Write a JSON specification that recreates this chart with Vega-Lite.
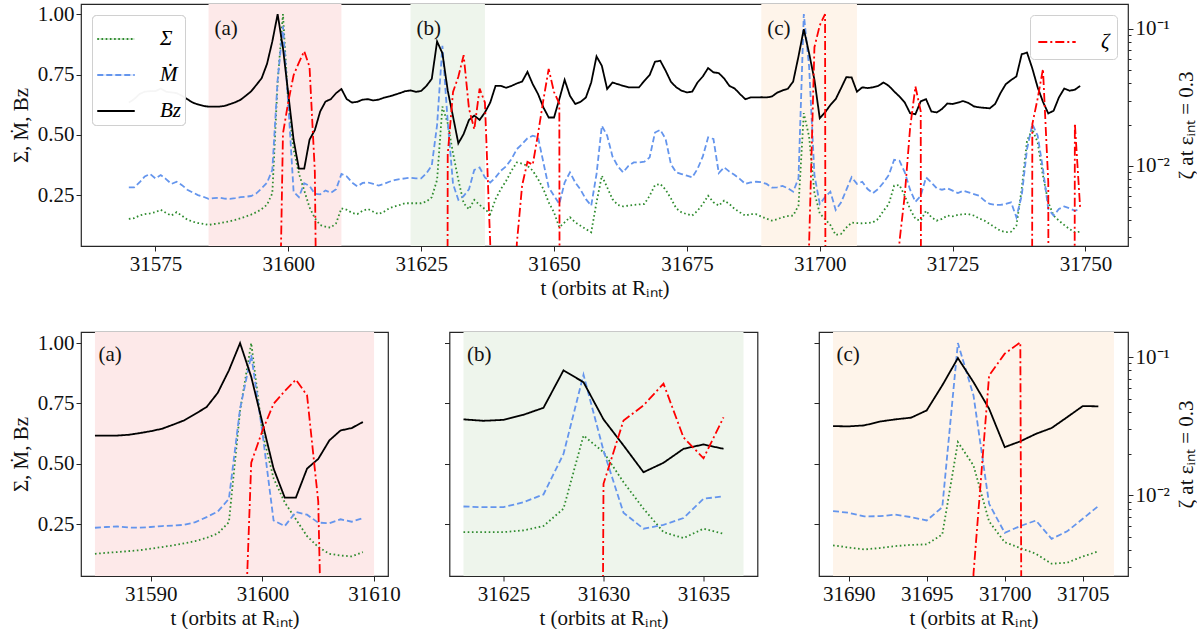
{
  "$schema": "https://vega.github.io/schema/vega-lite/v6.json",
  "padding": {"left": 9, "top": 2, "right": 0, "bottom": 0},
  "config": {
    "font": "Liberation Serif",
    "view": {"stroke": "#262626", "strokeWidth": 1.2},
    "axis": {
      "labelFont": "Liberation Serif", "titleFont": "Liberation Serif",
      "labelFontSize": 21, "titleFontSize": 21, "titleFontWeight": "normal",
      "labelColor": "#111", "titleColor": "#111", "tickColor": "#262626",
      "domain": false, "grid": false, "tickSize": 5, "labelPadding": 2,
      "labelFlush": false, "labelOverlap": false
    },
    "line": {"strokeWidth": 1.8}
  },
  "datasets": {
    "spans": [
      {"panel": "a", "label": "(a)", "t0": 31585, "t1": 31610},
      {"panel": "b", "label": "(b)", "t0": 31623, "t1": 31637},
      {"panel": "c", "label": "(c)", "t0": 31689, "t1": 31707}
    ],
    "main": [
      {"t":31570,"sigma":0.152,"mdot":0.283,"bz":0.634,"zeta":1e-30},
      {"t":31571,"sigma":0.155,"mdot":0.283,"bz":0.648,"zeta":1e-30},
      {"t":31572,"sigma":0.166,"mdot":0.303,"bz":0.669,"zeta":1e-30},
      {"t":31573,"sigma":0.172,"mdot":0.328,"bz":0.679,"zeta":1e-30},
      {"t":31574,"sigma":0.175,"mdot":0.338,"bz":0.681,"zeta":1e-30},
      {"t":31575,"sigma":0.180,"mdot":0.320,"bz":0.681,"zeta":1e-30},
      {"t":31576,"sigma":0.190,"mdot":0.334,"bz":0.692,"zeta":1e-30},
      {"t":31577,"sigma":0.177,"mdot":0.317,"bz":0.679,"zeta":1e-30},
      {"t":31578,"sigma":0.166,"mdot":0.297,"bz":0.676,"zeta":1e-30},
      {"t":31579,"sigma":0.180,"mdot":0.306,"bz":0.673,"zeta":1e-30},
      {"t":31580,"sigma":0.165,"mdot":0.292,"bz":0.662,"zeta":1e-30},
      {"t":31581,"sigma":0.149,"mdot":0.273,"bz":0.648,"zeta":1e-30},
      {"t":31582,"sigma":0.141,"mdot":0.262,"bz":0.634,"zeta":1e-30},
      {"t":31583,"sigma":0.135,"mdot":0.251,"bz":0.626,"zeta":1e-30},
      {"t":31584,"sigma":0.132,"mdot":0.244,"bz":0.620,"zeta":1e-30},
      {"t":31585,"sigma":0.127,"mdot":0.235,"bz":0.617,"zeta":1e-30},
      {"t":31586,"sigma":0.131,"mdot":0.238,"bz":0.617,"zeta":1e-30},
      {"t":31587,"sigma":0.134,"mdot":0.240,"bz":0.617,"zeta":1e-30},
      {"t":31588,"sigma":0.138,"mdot":0.236,"bz":0.620,"zeta":1e-30},
      {"t":31589,"sigma":0.142,"mdot":0.235,"bz":0.627,"zeta":1e-30},
      {"t":31590,"sigma":0.148,"mdot":0.238,"bz":0.635,"zeta":1e-30},
      {"t":31591,"sigma":0.155,"mdot":0.242,"bz":0.645,"zeta":1e-30},
      {"t":31592,"sigma":0.162,"mdot":0.244,"bz":0.662,"zeta":1e-30},
      {"t":31593,"sigma":0.170,"mdot":0.247,"bz":0.680,"zeta":1e-30},
      {"t":31594,"sigma":0.180,"mdot":0.258,"bz":0.707,"zeta":1e-30},
      {"t":31595,"sigma":0.193,"mdot":0.279,"bz":0.735,"zeta":1e-30},
      {"t":31596,"sigma":0.211,"mdot":0.302,"bz":0.794,"zeta":1e-30},
      {"t":31597,"sigma":0.258,"mdot":0.355,"bz":0.887,"zeta":1e-30},
      {"t":31598,"sigma":0.720,"mdot":0.728,"bz":1.000,"zeta":1e-4},
      {"t":31599,"sigma":1.000,"mdot":0.950,"bz":0.860,"zeta":0.0172},
      {"t":31600,"sigma":0.630,"mdot":0.630,"bz":0.670,"zeta":0.0293},
      {"t":31601,"sigma":0.440,"mdot":0.265,"bz":0.480,"zeta":0.0459},
      {"t":31602,"sigma":0.340,"mdot":0.242,"bz":0.360,"zeta":0.0568},
      {"t":31603,"sigma":0.270,"mdot":0.300,"bz":0.360,"zeta":0.0687},
      {"t":31604,"sigma":0.200,"mdot":0.289,"bz":0.480,"zeta":0.0528},
      {"t":31605,"sigma":0.155,"mdot":0.256,"bz":0.520,"zeta":0.00903},
      {"t":31606,"sigma":0.127,"mdot":0.254,"bz":0.597,"zeta":2e-6},
      {"t":31607,"sigma":0.120,"mdot":0.270,"bz":0.638,"zeta":1e-30},
      {"t":31608,"sigma":0.116,"mdot":0.260,"bz":0.648,"zeta":1e-30},
      {"t":31609,"sigma":0.134,"mdot":0.275,"bz":0.673,"zeta":1e-30},
      {"t":31610,"sigma":0.196,"mdot":0.338,"bz":0.690,"zeta":1e-30},
      {"t":31611,"sigma":0.190,"mdot":0.328,"bz":0.648,"zeta":1e-30},
      {"t":31612,"sigma":0.177,"mdot":0.303,"bz":0.634,"zeta":1e-30},
      {"t":31613,"sigma":0.172,"mdot":0.287,"bz":0.637,"zeta":1e-30},
      {"t":31614,"sigma":0.186,"mdot":0.301,"bz":0.646,"zeta":1e-30},
      {"t":31615,"sigma":0.193,"mdot":0.303,"bz":0.648,"zeta":1e-30},
      {"t":31616,"sigma":0.182,"mdot":0.297,"bz":0.643,"zeta":1e-30},
      {"t":31617,"sigma":0.172,"mdot":0.290,"bz":0.646,"zeta":1e-30},
      {"t":31618,"sigma":0.182,"mdot":0.297,"bz":0.654,"zeta":1e-30},
      {"t":31619,"sigma":0.196,"mdot":0.306,"bz":0.659,"zeta":1e-30},
      {"t":31620,"sigma":0.204,"mdot":0.313,"bz":0.666,"zeta":1e-30},
      {"t":31621,"sigma":0.210,"mdot":0.317,"bz":0.673,"zeta":1e-30},
      {"t":31622,"sigma":0.217,"mdot":0.320,"bz":0.681,"zeta":1e-30},
      {"t":31623,"sigma":0.217,"mdot":0.323,"bz":0.684,"zeta":1e-30},
      {"t":31624,"sigma":0.217,"mdot":0.320,"bz":0.678,"zeta":1e-30},
      {"t":31625,"sigma":0.217,"mdot":0.320,"bz":0.682,"zeta":1e-30},
      {"t":31626,"sigma":0.224,"mdot":0.341,"bz":0.703,"zeta":1e-30},
      {"t":31627,"sigma":0.242,"mdot":0.373,"bz":0.732,"zeta":1e-30},
      {"t":31628,"sigma":0.314,"mdot":0.541,"bz":0.887,"zeta":1e-30},
      {"t":31629,"sigma":0.617,"mdot":0.869,"bz":0.838,"zeta":1e-30},
      {"t":31630,"sigma":0.548,"mdot":0.555,"bz":0.684,"zeta":0.0121},
      {"t":31631,"sigma":0.424,"mdot":0.297,"bz":0.576,"zeta":0.0347},
      {"t":31632,"sigma":0.314,"mdot":0.231,"bz":0.465,"zeta":0.0447},
      {"t":31633,"sigma":0.217,"mdot":0.247,"bz":0.504,"zeta":0.0643},
      {"t":31634,"sigma":0.192,"mdot":0.275,"bz":0.562,"zeta":0.0262},
      {"t":31635,"sigma":0.231,"mdot":0.355,"bz":0.580,"zeta":0.0185},
      {"t":31636,"sigma":0.210,"mdot":0.365,"bz":0.562,"zeta":0.0366},
      {"t":31637,"sigma":0.193,"mdot":0.324,"bz":0.593,"zeta":0.0290},
      {"t":31638,"sigma":0.172,"mdot":0.303,"bz":0.634,"zeta":0.0027},
      {"t":31639,"sigma":0.234,"mdot":0.324,"bz":0.703,"zeta":1e-30},
      {"t":31640,"sigma":0.276,"mdot":0.352,"bz":0.703,"zeta":1e-30},
      {"t":31641,"sigma":0.310,"mdot":0.370,"bz":0.695,"zeta":1e-30},
      {"t":31642,"sigma":0.352,"mdot":0.400,"bz":0.703,"zeta":1e-30},
      {"t":31643,"sigma":0.386,"mdot":0.441,"bz":0.713,"zeta":0.0027},
      {"t":31644,"sigma":0.381,"mdot":0.462,"bz":0.721,"zeta":0.0072},
      {"t":31645,"sigma":0.372,"mdot":0.486,"bz":0.761,"zeta":0.0107},
      {"t":31646,"sigma":0.352,"mdot":0.497,"bz":0.710,"zeta":0.0102},
      {"t":31647,"sigma":0.317,"mdot":0.490,"bz":0.669,"zeta":0.0172},
      {"t":31648,"sigma":0.276,"mdot":0.386,"bz":0.614,"zeta":0.0303},
      {"t":31649,"sigma":0.221,"mdot":0.283,"bz":0.572,"zeta":0.051},
      {"t":31650,"sigma":0.179,"mdot":0.248,"bz":0.572,"zeta":0.0346},
      {"t":31651,"sigma":0.117,"mdot":0.214,"bz":0.648,"zeta":0.0285},
      {"t":31652,"sigma":0.138,"mdot":0.303,"bz":0.728,"zeta":1e-30},
      {"t":31653,"sigma":0.159,"mdot":0.345,"bz":0.662,"zeta":1e-30},
      {"t":31654,"sigma":0.138,"mdot":0.303,"bz":0.628,"zeta":1e-30},
      {"t":31655,"sigma":0.124,"mdot":0.273,"bz":0.637,"zeta":1e-30},
      {"t":31656,"sigma":0.110,"mdot":0.234,"bz":0.655,"zeta":1e-30},
      {"t":31657,"sigma":0.097,"mdot":0.207,"bz":0.717,"zeta":1e-30},
      {"t":31658,"sigma":0.221,"mdot":0.338,"bz":0.825,"zeta":1e-30},
      {"t":31659,"sigma":0.331,"mdot":0.538,"bz":0.786,"zeta":1e-30},
      {"t":31660,"sigma":0.283,"mdot":0.497,"bz":0.690,"zeta":1e-30},
      {"t":31661,"sigma":0.234,"mdot":0.411,"bz":0.717,"zeta":1e-30},
      {"t":31662,"sigma":0.210,"mdot":0.370,"bz":0.710,"zeta":1e-30},
      {"t":31663,"sigma":0.204,"mdot":0.345,"bz":0.703,"zeta":1e-30},
      {"t":31664,"sigma":0.207,"mdot":0.372,"bz":0.697,"zeta":1e-30},
      {"t":31665,"sigma":0.210,"mdot":0.386,"bz":0.697,"zeta":1e-30},
      {"t":31666,"sigma":0.212,"mdot":0.386,"bz":0.697,"zeta":1e-30},
      {"t":31667,"sigma":0.214,"mdot":0.389,"bz":0.724,"zeta":1e-30},
      {"t":31668,"sigma":0.248,"mdot":0.407,"bz":0.748,"zeta":1e-30},
      {"t":31669,"sigma":0.292,"mdot":0.510,"bz":0.803,"zeta":1e-30},
      {"t":31670,"sigma":0.297,"mdot":0.521,"bz":0.807,"zeta":1e-30},
      {"t":31671,"sigma":0.273,"mdot":0.483,"bz":0.766,"zeta":1e-30},
      {"t":31672,"sigma":0.237,"mdot":0.379,"bz":0.720,"zeta":1e-30},
      {"t":31673,"sigma":0.196,"mdot":0.345,"bz":0.697,"zeta":1e-30},
      {"t":31674,"sigma":0.179,"mdot":0.338,"bz":0.683,"zeta":1e-30},
      {"t":31675,"sigma":0.172,"mdot":0.331,"bz":0.676,"zeta":1e-30},
      {"t":31676,"sigma":0.166,"mdot":0.324,"bz":0.679,"zeta":1e-30},
      {"t":31677,"sigma":0.186,"mdot":0.359,"bz":0.717,"zeta":1e-30},
      {"t":31678,"sigma":0.214,"mdot":0.411,"bz":0.742,"zeta":1e-30},
      {"t":31679,"sigma":0.248,"mdot":0.490,"bz":0.777,"zeta":1e-30},
      {"t":31680,"sigma":0.221,"mdot":0.483,"bz":0.759,"zeta":1e-30},
      {"t":31681,"sigma":0.207,"mdot":0.342,"bz":0.756,"zeta":1e-30},
      {"t":31682,"sigma":0.228,"mdot":0.366,"bz":0.734,"zeta":1e-30},
      {"t":31683,"sigma":0.214,"mdot":0.348,"bz":0.703,"zeta":1e-30},
      {"t":31684,"sigma":0.193,"mdot":0.334,"bz":0.692,"zeta":1e-30},
      {"t":31685,"sigma":0.179,"mdot":0.317,"bz":0.669,"zeta":1e-30},
      {"t":31686,"sigma":0.166,"mdot":0.297,"bz":0.648,"zeta":1e-30},
      {"t":31687,"sigma":0.172,"mdot":0.303,"bz":0.655,"zeta":1e-30},
      {"t":31688,"sigma":0.172,"mdot":0.306,"bz":0.655,"zeta":1e-30},
      {"t":31689,"sigma":0.162,"mdot":0.304,"bz":0.656,"zeta":1e-30},
      {"t":31690,"sigma":0.153,"mdot":0.297,"bz":0.655,"zeta":1e-30},
      {"t":31691,"sigma":0.145,"mdot":0.282,"bz":0.659,"zeta":1e-30},
      {"t":31692,"sigma":0.151,"mdot":0.283,"bz":0.675,"zeta":1e-30},
      {"t":31693,"sigma":0.159,"mdot":0.289,"bz":0.684,"zeta":1e-30},
      {"t":31694,"sigma":0.164,"mdot":0.279,"bz":0.691,"zeta":1e-30},
      {"t":31695,"sigma":0.166,"mdot":0.265,"bz":0.721,"zeta":1e-30},
      {"t":31696,"sigma":0.207,"mdot":0.320,"bz":0.825,"zeta":1e-30},
      {"t":31697,"sigma":0.590,"mdot":1.000,"bz":0.938,"zeta":1e-30},
      {"t":31698,"sigma":0.493,"mdot":0.783,"bz":0.838,"zeta":0.0027},
      {"t":31699,"sigma":0.261,"mdot":0.334,"bz":0.728,"zeta":0.0735},
      {"t":31700,"sigma":0.175,"mdot":0.214,"bz":0.569,"zeta":0.106},
      {"t":31701,"sigma":0.151,"mdot":0.242,"bz":0.593,"zeta":0.128},
      {"t":31702,"sigma":0.127,"mdot":0.265,"bz":0.624,"zeta":1e-30},
      {"t":31703,"sigma":0.086,"mdot":0.189,"bz":0.648,"zeta":1e-30},
      {"t":31704,"sigma":0.090,"mdot":0.220,"bz":0.693,"zeta":1e-30},
      {"t":31705,"sigma":0.116,"mdot":0.272,"bz":0.739,"zeta":1e-30},
      {"t":31706,"sigma":0.137,"mdot":0.325,"bz":0.738,"zeta":1e-30},
      {"t":31707,"sigma":0.135,"mdot":0.297,"bz":0.679,"zeta":1e-30},
      {"t":31708,"sigma":0.134,"mdot":0.306,"bz":0.697,"zeta":1e-30},
      {"t":31709,"sigma":0.135,"mdot":0.276,"bz":0.694,"zeta":1e-30},
      {"t":31710,"sigma":0.138,"mdot":0.259,"bz":0.697,"zeta":1e-30},
      {"t":31711,"sigma":0.152,"mdot":0.276,"bz":0.703,"zeta":1e-30},
      {"t":31712,"sigma":0.186,"mdot":0.303,"bz":0.717,"zeta":1e-30},
      {"t":31713,"sigma":0.214,"mdot":0.334,"bz":0.703,"zeta":1e-30},
      {"t":31714,"sigma":0.290,"mdot":0.397,"bz":0.680,"zeta":1e-30},
      {"t":31715,"sigma":0.292,"mdot":0.393,"bz":0.659,"zeta":0.0028},
      {"t":31716,"sigma":0.248,"mdot":0.345,"bz":0.634,"zeta":0.00614},
      {"t":31717,"sigma":0.193,"mdot":0.273,"bz":0.590,"zeta":0.0189},
      {"t":31718,"sigma":0.152,"mdot":0.223,"bz":0.586,"zeta":0.038},
      {"t":31719,"sigma":0.145,"mdot":0.248,"bz":0.639,"zeta":0.025},
      {"t":31720,"sigma":0.186,"mdot":0.324,"bz":0.648,"zeta":1e-30},
      {"t":31721,"sigma":0.159,"mdot":0.303,"bz":0.597,"zeta":1e-30},
      {"t":31722,"sigma":0.145,"mdot":0.279,"bz":0.593,"zeta":1e-30},
      {"t":31723,"sigma":0.152,"mdot":0.273,"bz":0.607,"zeta":1e-30},
      {"t":31724,"sigma":0.166,"mdot":0.279,"bz":0.630,"zeta":1e-30},
      {"t":31725,"sigma":0.163,"mdot":0.269,"bz":0.628,"zeta":1e-30},
      {"t":31726,"sigma":0.169,"mdot":0.259,"bz":0.634,"zeta":1e-30},
      {"t":31727,"sigma":0.172,"mdot":0.269,"bz":0.640,"zeta":1e-30},
      {"t":31728,"sigma":0.172,"mdot":0.262,"bz":0.632,"zeta":1e-30},
      {"t":31729,"sigma":0.166,"mdot":0.255,"bz":0.618,"zeta":1e-30},
      {"t":31730,"sigma":0.154,"mdot":0.248,"bz":0.614,"zeta":1e-30},
      {"t":31731,"sigma":0.145,"mdot":0.228,"bz":0.612,"zeta":1e-30},
      {"t":31732,"sigma":0.131,"mdot":0.214,"bz":0.610,"zeta":1e-30},
      {"t":31733,"sigma":0.117,"mdot":0.210,"bz":0.628,"zeta":1e-30},
      {"t":31734,"sigma":0.103,"mdot":0.210,"bz":0.673,"zeta":1e-30},
      {"t":31735,"sigma":0.097,"mdot":0.214,"bz":0.710,"zeta":1e-30},
      {"t":31736,"sigma":0.099,"mdot":0.221,"bz":0.727,"zeta":1e-30},
      {"t":31737,"sigma":0.124,"mdot":0.159,"bz":0.742,"zeta":1e-30},
      {"t":31738,"sigma":0.276,"mdot":0.248,"bz":0.834,"zeta":1e-30},
      {"t":31739,"sigma":0.476,"mdot":0.441,"bz":0.841,"zeta":1e-30},
      {"t":31740,"sigma":0.524,"mdot":0.545,"bz":0.775,"zeta":0.0202},
      {"t":31741,"sigma":0.469,"mdot":0.497,"bz":0.697,"zeta":0.031},
      {"t":31742,"sigma":0.331,"mdot":0.359,"bz":0.637,"zeta":0.051},
      {"t":31743,"sigma":0.221,"mdot":0.193,"bz":0.589,"zeta":0.0076},
      {"t":31744,"sigma":0.166,"mdot":0.166,"bz":0.600,"zeta":1e-30},
      {"t":31745,"sigma":0.145,"mdot":0.193,"bz":0.655,"zeta":1e-30},
      {"t":31746,"sigma":0.127,"mdot":0.204,"bz":0.692,"zeta":1e-30},
      {"t":31747,"sigma":0.110,"mdot":0.196,"bz":0.683,"zeta":1e-30},
      {"t":31748,"sigma":0.097,"mdot":0.186,"bz":0.687,"zeta":0.0204},
      {"t":31749,"sigma":0.099,"mdot":0.193,"bz":0.703,"zeta":0.0049}
    ]
  },
  "vconcat": [
    {
      "width": 1047,
      "height": 242,
      "layer": [
        {
          "data": {"name": "spans"},
          "mark": {"type": "rect"},
          "encoding": {
            "x": {"field": "t0", "type": "quantitative",
              "scale": {"domain": [31561, 31758], "nice": false, "zero": false},
              "axis": {"title": "t (orbits at Rᵢₙₜ)", "values": [31575, 31600, 31625, 31650, 31675, 31700, 31725, 31750], "format": "d", "titlePadding": 3}},
            "x2": {"field": "t1"},
            "fill": {"field": "panel", "type": "nominal", "scale": {"domain": ["a", "b", "c"], "range": ["#fde9e9", "#eef5ec", "#fef4ea"]}, "legend": null}
          }
        },
        {
          "layer": [
            {
              "data": {"name": "main"},
              "transform": [{"fold": ["sigma", "mdot", "bz"], "as": ["series", "value"]}],
              "mark": {"type": "line", "clip": true},
              "encoding": {
                "x": {"field": "t", "type": "quantitative"},
                "y": {"field": "value", "type": "quantitative",
                  "scale": {"domain": [0.04, 1.042], "nice": false, "zero": false},
                  "axis": {"title": "Σ, Ṁ, Bz", "values": [0.25, 0.5, 0.75, 1], "format": ".2f", "titlePadding": 6}},
                "color": {"field": "series", "type": "nominal",
                  "scale": {"domain": ["sigma", "mdot", "bz"], "range": ["#2e8b2e", "#6495ed", "#000000"]},
                  "legend": {"orient": "top-left", "offset": 11, "title": null, "symbolType": "stroke", "symbolSize": 1400, "symbolStrokeWidth": 1.8, "labelFontSize": 21, "labelFontStyle": "italic", "labelOffset": 24, "padding": 4, "rowPadding": 6, "fillColor": "rgba(255,255,255,0.8)", "strokeColor": "#d0d0d0", "cornerRadius": 4, "labelExpr": "datum.label == 'sigma' ? 'Σ' : datum.label == 'mdot' ? 'Ṁ' : 'Bz'"}},
                "strokeDash": {"field": "series", "type": "nominal",
                  "scale": {"domain": ["sigma", "mdot", "bz"], "range": [[1.6, 2.6], [6, 3], [1, 0]]},
                  "legend": {"orient": "top-left", "offset": 11, "title": null, "symbolType": "stroke", "symbolSize": 1400, "symbolStrokeWidth": 1.8, "labelFontSize": 21, "labelFontStyle": "italic", "labelOffset": 24, "padding": 4, "rowPadding": 6, "fillColor": "rgba(255,255,255,0.8)", "strokeColor": "#d0d0d0", "cornerRadius": 4, "labelExpr": "datum.label == 'sigma' ? 'Σ' : datum.label == 'mdot' ? 'Ṁ' : 'Bz'"}}
              }
            },
            {
              "data": {"name": "spans"},
              "mark": {"type": "text", "align": "left", "baseline": "middle", "dx": 6, "fontSize": 21, "color": "#111"},
              "encoding": {
                "x": {"field": "t0", "type": "quantitative"},
                "y": {"datum": 0.94, "type": "quantitative"},
                "text": {"field": "label"}
              }
            }
          ]
        },
        {
          "data": {"name": "main"},
          "mark": {"type": "line", "clip": true, "strokeDash": [9, 3, 2, 3]},
          "encoding": {
            "x": {"field": "t", "type": "quantitative"},
            "y": {"field": "zeta", "type": "quantitative",
              "scale": {"type": "log", "domain": [0.0026, 0.152], "nice": false},
              "axis": {"orient": "right", "title": "ζ at εᵢₙₜ = 0.3", "titleAngle": 270, "titleBaseline": "top", "titlePadding": 6,
                "values": [0.003, 0.004, 0.005, 0.006, 0.007, 0.008, 0.009, 0.01, 0.02, 0.03, 0.04, 0.05, 0.06, 0.07, 0.08, 0.09, 0.1],
                "tickSize": {"condition": {"test": "datum.value == 0.1 || datum.value == 0.01", "value": 5}, "value": 3},
                "labelExpr": "datum.value == 0.1 ? '10⁻¹' : datum.value == 0.01 ? '10⁻²' : ''"}},
            "color": {"datum": "ζ", "type": "nominal", "scale": {"range": ["#ff0000"]},
              "legend": {"orient": "top-right", "offset": 11, "title": null, "symbolType": "stroke", "symbolSize": 1400, "symbolStrokeWidth": 1.8, "symbolDash": [9, 3, 2, 3], "labelFontSize": 21, "labelFontStyle": "italic", "labelOffset": 24, "padding": 7, "fillColor": "rgba(255,255,255,0.8)", "strokeColor": "#d0d0d0", "cornerRadius": 4}}
          }
        }
      ],
      "resolve": {"scale": {"y": "independent", "color": "independent"}}
    },
    {
      "hconcat": [
        {
          "width": 307,
          "height": 244,
          "layer": [
            {
              "data": {"name": "spans"},
              "transform": [{"filter": "datum.panel == 'a'"}],
              "mark": {"type": "rect"},
              "encoding": {
                "x": {"field": "t0", "type": "quantitative",
                  "scale": {"domain": [31583.75, 31611.25], "nice": false, "zero": false},
                  "axis": {"title": "t (orbits at Rᵢₙₜ)", "values": [31590, 31600, 31610], "format": "d", "titlePadding": 3}},
                "x2": {"field": "t1"},
                "fill": {"value": "#fde9e9"}
              }
            },
            {
              "layer": [
                {
                  "data": {"name": "main"},
                  "transform": [{"filter": "datum.t >= 31585 && datum.t <= 31609"}, {"fold": ["sigma", "mdot", "bz"], "as": ["series", "value"]}],
                  "mark": {"type": "line", "clip": true},
                  "encoding": {
                    "x": {"field": "t", "type": "quantitative"},
                    "y": {"field": "value", "type": "quantitative",
                      "scale": {"domain": [0.035, 1.046], "nice": false, "zero": false},
                      "axis": {"title": "Σ, Ṁ, Bz", "values": [0.25, 0.5, 0.75, 1], "format": ".2f", "titlePadding": 6}},
                    "color": {"field": "series", "type": "nominal", "scale": {"domain": ["sigma", "mdot", "bz"], "range": ["#2e8b2e", "#6495ed", "#000000"]}, "legend": null},
                    "strokeDash": {"field": "series", "type": "nominal", "scale": {"domain": ["sigma", "mdot", "bz"], "range": [[1.6, 2.6], [6, 3], [1, 0]]}, "legend": null}
                  }
                },
                {
                  "data": {"name": "spans"},
                  "transform": [{"filter": "datum.panel == 'a'"}],
                  "mark": {"type": "text", "align": "left", "baseline": "middle", "dx": 3.5, "fontSize": 21, "color": "#111"},
                  "encoding": {
                    "x": {"field": "t0", "type": "quantitative"},
                    "y": {"datum": 0.95, "type": "quantitative"},
                    "text": {"field": "label"}
                  }
                }
              ]
            },
            {
              "data": {"name": "main"},
              "transform": [{"filter": "datum.t >= 31585 && datum.t <= 31609"}],
              "mark": {"type": "line", "clip": true, "strokeDash": [9, 3, 2, 3], "color": "#ff0000"},
              "encoding": {
                "x": {"field": "t", "type": "quantitative"},
                "y": {"field": "zeta", "type": "quantitative", "scale": {"type": "log", "domain": [0.0026, 0.152], "nice": false}, "axis": null}
              }
            }
          ],
          "resolve": {"scale": {"y": "independent"}}
        },
        {
          "width": 308,
          "height": 244,
          "layer": [
            {
              "data": {"name": "spans"},
              "transform": [{"filter": "datum.panel == 'b'"}],
              "mark": {"type": "rect"},
              "encoding": {
                "x": {"field": "t0", "type": "quantitative",
                  "scale": {"domain": [31622.3, 31637.7], "nice": false, "zero": false},
                  "axis": {"title": "t (orbits at Rᵢₙₜ)", "values": [31625, 31630, 31635], "format": "d", "titlePadding": 3}},
                "x2": {"field": "t1"},
                "fill": {"value": "#eef5ec"}
              }
            },
            {
              "layer": [
                {
                  "data": {"name": "main"},
                  "transform": [{"filter": "datum.t >= 31623 && datum.t <= 31636"}, {"fold": ["sigma", "mdot", "bz"], "as": ["series", "value"]}],
                  "mark": {"type": "line", "clip": true},
                  "encoding": {
                    "x": {"field": "t", "type": "quantitative"},
                    "y": {"field": "value", "type": "quantitative",
                      "scale": {"domain": [0.035, 1.046], "nice": false, "zero": false},
                      "axis": {"title": null, "values": [0.25, 0.5, 0.75, 1], "labels": false}},
                    "color": {"field": "series", "type": "nominal", "scale": {"domain": ["sigma", "mdot", "bz"], "range": ["#2e8b2e", "#6495ed", "#000000"]}, "legend": null},
                    "strokeDash": {"field": "series", "type": "nominal", "scale": {"domain": ["sigma", "mdot", "bz"], "range": [[1.6, 2.6], [6, 3], [1, 0]]}, "legend": null}
                  }
                },
                {
                  "data": {"name": "spans"},
                  "transform": [{"filter": "datum.panel == 'b'"}],
                  "mark": {"type": "text", "align": "left", "baseline": "middle", "dx": 3.5, "fontSize": 21, "color": "#111"},
                  "encoding": {
                    "x": {"field": "t0", "type": "quantitative"},
                    "y": {"datum": 0.95, "type": "quantitative"},
                    "text": {"field": "label"}
                  }
                }
              ]
            },
            {
              "data": {"name": "main"},
              "transform": [{"filter": "datum.t >= 31623 && datum.t <= 31636"}],
              "mark": {"type": "line", "clip": true, "strokeDash": [9, 3, 2, 3], "color": "#ff0000"},
              "encoding": {
                "x": {"field": "t", "type": "quantitative"},
                "y": {"field": "zeta", "type": "quantitative", "scale": {"type": "log", "domain": [0.0026, 0.152], "nice": false}, "axis": null}
              }
            }
          ],
          "resolve": {"scale": {"y": "independent"}}
        },
        {
          "width": 309,
          "height": 244,
          "layer": [
            {
              "data": {"name": "spans"},
              "transform": [{"filter": "datum.panel == 'c'"}],
              "mark": {"type": "rect"},
              "encoding": {
                "x": {"field": "t0", "type": "quantitative",
                  "scale": {"domain": [31688.1, 31707.9], "nice": false, "zero": false},
                  "axis": {"title": "t (orbits at Rᵢₙₜ)", "values": [31690, 31695, 31700, 31705], "format": "d", "titlePadding": 3}},
                "x2": {"field": "t1"},
                "fill": {"value": "#fef4ea"}
              }
            },
            {
              "layer": [
                {
                  "data": {"name": "main"},
                  "transform": [{"filter": "datum.t >= 31689 && datum.t <= 31706"}, {"fold": ["sigma", "mdot", "bz"], "as": ["series", "value"]}],
                  "mark": {"type": "line", "clip": true},
                  "encoding": {
                    "x": {"field": "t", "type": "quantitative"},
                    "y": {"field": "value", "type": "quantitative",
                      "scale": {"domain": [0.035, 1.046], "nice": false, "zero": false},
                      "axis": {"title": null, "values": [0.25, 0.5, 0.75, 1], "labels": false}},
                    "color": {"field": "series", "type": "nominal", "scale": {"domain": ["sigma", "mdot", "bz"], "range": ["#2e8b2e", "#6495ed", "#000000"]}, "legend": null},
                    "strokeDash": {"field": "series", "type": "nominal", "scale": {"domain": ["sigma", "mdot", "bz"], "range": [[1.6, 2.6], [6, 3], [1, 0]]}, "legend": null}
                  }
                },
                {
                  "data": {"name": "spans"},
                  "transform": [{"filter": "datum.panel == 'c'"}],
                  "mark": {"type": "text", "align": "left", "baseline": "middle", "dx": 3.5, "fontSize": 21, "color": "#111"},
                  "encoding": {
                    "x": {"field": "t0", "type": "quantitative"},
                    "y": {"datum": 0.95, "type": "quantitative"},
                    "text": {"field": "label"}
                  }
                }
              ]
            },
            {
              "data": {"name": "main"},
              "transform": [{"filter": "datum.t >= 31689 && datum.t <= 31706"}],
              "mark": {"type": "line", "clip": true, "strokeDash": [9, 3, 2, 3], "color": "#ff0000"},
              "encoding": {
                "x": {"field": "t", "type": "quantitative"},
                "y": {"field": "zeta", "type": "quantitative",
                  "scale": {"type": "log", "domain": [0.0026, 0.152], "nice": false},
                  "axis": {"orient": "right", "title": "ζ at εᵢₙₜ = 0.3", "titleAngle": 270, "titleBaseline": "top", "titlePadding": 6,
                    "values": [0.003, 0.004, 0.005, 0.006, 0.007, 0.008, 0.009, 0.01, 0.02, 0.03, 0.04, 0.05, 0.06, 0.07, 0.08, 0.09, 0.1],
                    "tickSize": {"condition": {"test": "datum.value == 0.1 || datum.value == 0.01", "value": 5}, "value": 3},
                    "labelExpr": "datum.value == 0.1 ? '10⁻¹' : datum.value == 0.01 ? '10⁻²' : ''"}}
              }
            }
          ],
          "resolve": {"scale": {"y": "independent"}}
        }
      ],
      "spacing": 61.5,
      "bounds": "flush"
    }
  ],
  "spacing": 86,
  "bounds": "flush"
}
